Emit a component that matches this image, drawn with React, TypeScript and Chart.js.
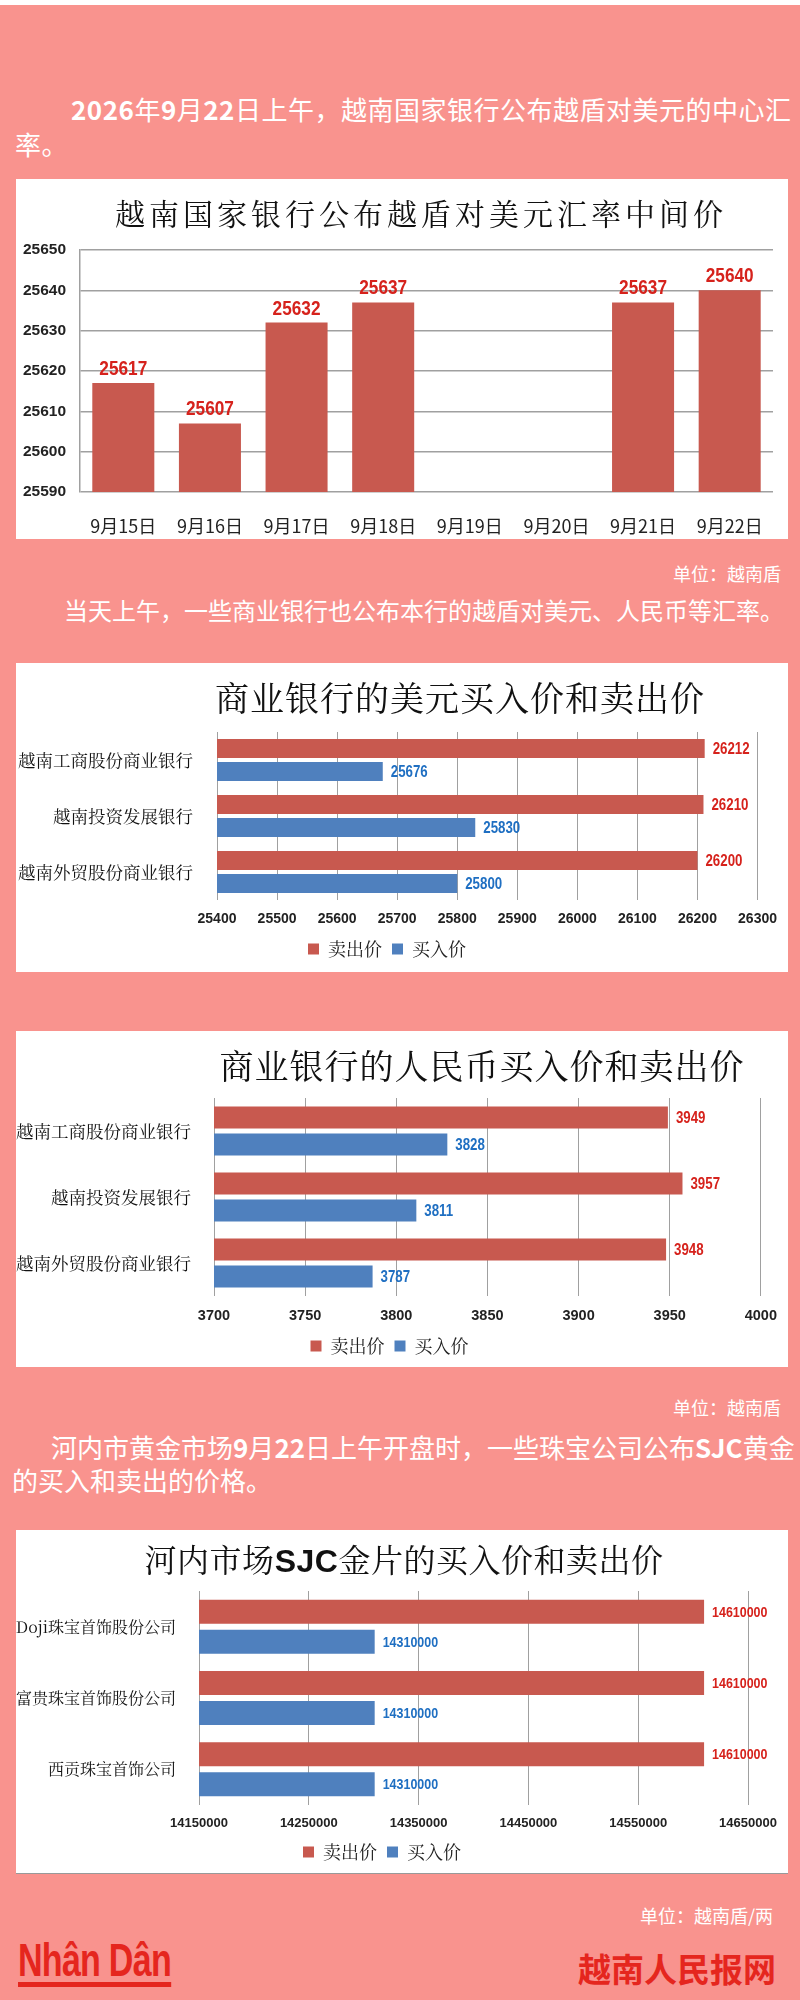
import React, { useEffect, useRef } from 'react';
import { Chart, registerables } from 'chart.js';

Chart.register(...registerables);

// ---------- colours & fonts ----------
const PINK = '#F9938E';
const RED_BAR = '#C8594F';
const BLUE_BAR = '#4F80BE';
const RED_TXT = '#D6221C';
const BLUE_TXT = '#1F6FC2';
const LOGO_RED = '#E5261E';
const GRID = '#A0A0A0';
const NUMF = '"Liberation Sans", Arial, sans-serif';
const CJK = '"Noto Sans CJK SC", "Noto Sans", sans-serif';
const SERIF_CJK = '"Noto Serif CJK SC", "Noto Sans CJK SC", serif';

// ---------- data ----------
// Chart 1: central rate
const rateDates = ['9月15日', '9月16日', '9月17日', '9月18日', '9月19日', '9月20日', '9月21日', '9月22日'];
const rateValues = [25617, 25607, 25632, 25637, null, null, 25637, 25640];
const rateMin = 25590;
const rateMax = 25650;
const rateStep = 10;

// Shared series names
const seriesNames = ['卖出价', '买入价'];

// Chart 2: USD at commercial banks
const banks = ['越南工商股份商业银行', '越南投资发展银行', '越南外贸股份商业银行'];
const usdSell = [26212, 26210, 26200];
const usdBuy = [25676, 25830, 25800];
const usdMin = 25400;
const usdMax = 26300;
const usdStep = 100;

// Chart 3: CNY at commercial banks
const cnySell = [3949, 3957, 3948];
const cnyBuy = [3828, 3811, 3787];
const cnyMin = 3700;
const cnyMax = 4000;
const cnyStep = 50;

// Chart 4: SJC gold
const goldCompanies = ['Doji珠宝首饰股份公司', '富贵珠宝首饰股份公司', '西贡珠宝首饰公司'];
const goldSell = [14610000, 14610000, 14610000];
const goldBuy = [14310000, 14310000, 14310000];
const goldMin = 14150000;
const goldMax = 14650000;
const goldStep = 100000;

// ---------- value label plugin (condensed look via horizontal scaling) ----------
function makeValueLabels(font: string, offset: number, horizontal: boolean, squeeze: number) {
  return {
    id: 'valueLabels',
    afterDatasetsDraw(chart: any) {
      const ctx = chart.ctx;
      chart.data.datasets.forEach((ds: any, di: number) => {
        const meta = chart.getDatasetMeta(di);
        meta.data.forEach((bar: any, i: number) => {
          const v = ds.data[i];
          if (v === null || v === undefined) return;
          ctx.save();
          ctx.font = font;
          ctx.fillStyle = ds.labelColor;
          if (horizontal) {
            ctx.translate(bar.x + offset, bar.y + 1);
            ctx.scale(squeeze, 1);
            ctx.textAlign = 'left';
            ctx.textBaseline = 'middle';
            ctx.fillText(String(v), 0, 0);
          } else {
            ctx.translate(bar.x, bar.y - offset);
            ctx.scale(squeeze, 1);
            ctx.textAlign = 'center';
            ctx.textBaseline = 'alphabetic';
            ctx.fillText(String(v), 0, 0);
          }
          ctx.restore();
        });
      });
    },
  };
}

function ChartCanvas({ make, width, height }: { make: () => any; width: number; height: number }) {
  const ref = useRef<HTMLCanvasElement>(null);
  useEffect(() => {
    const chart = new Chart(ref.current as HTMLCanvasElement, make());
    return () => chart.destroy();
  }, []);
  return (
    <canvas
      ref={ref}
      width={width}
      height={height}
      style={{ position: 'absolute', left: 0, top: 0, width, height, display: 'block' }}
    />
  );
}

function rateConfig() {
  return {
    type: 'bar',
    data: {
      labels: rateDates,
      datasets: [
        {
          data: rateValues,
          backgroundColor: RED_BAR,
          labelColor: RED_TXT,
          categoryPercentage: 0.8,
          barPercentage: 0.895,
        },
      ],
    },
    options: {
      animation: false,
      responsive: false,
      devicePixelRatio: 1,
      layout: { padding: { left: 0, top: 71, right: 15, bottom: 0 } },
      plugins: { legend: { display: false }, tooltip: { enabled: false } },
      scales: {
        x: {
          grid: { display: false },
          border: { display: false },
          ticks: {
            font: { family: CJK, size: 18 },
            color: '#222',
            padding: 15,
            maxRotation: 0,
            autoSkip: false,
          },
          afterFit: (s: any) => {
            s.height = 47;
          },
        },
        y: {
          min: rateMin,
          max: rateMax,
          ticks: {
            stepSize: rateStep,
            font: { family: NUMF, size: 15.5, weight: 'bold' },
            color: '#222',
            padding: 14,
            callback: (v: any) => String(v),
          },
          grid: { color: GRID, lineWidth: 1.5, drawTicks: false },
          border: { display: true, color: GRID, width: 1.5 },
          afterFit: (s: any) => {
            s.width = 64;
          },
        },
      },
    },
    plugins: [makeValueLabels(`bold 21px ${NUMF}`, 8, false, 0.82)],
  };
}

type HP = {
  labels: string[];
  sell: number[];
  buy: number[];
  min: number;
  max: number;
  step: number;
  left: number;
  top: number;
  right: number;
  xAxisH: number;
  padBottom: number;
  tickFont: number;
  tickPad: number;
  catFont: number;
  catPad: number;
  valueFont: number;
  catPct: number;
  barPct: number;
};

function hbarConfig(p: HP) {
  return () => ({
    type: 'bar',
    data: {
      labels: p.labels,
      datasets: [
        {
          label: seriesNames[0],
          data: p.sell,
          backgroundColor: RED_BAR,
          borderWidth: 0,
          labelColor: RED_TXT,
          categoryPercentage: p.catPct,
          barPercentage: p.barPct,
        },
        {
          label: seriesNames[1],
          data: p.buy,
          backgroundColor: BLUE_BAR,
          borderWidth: 0,
          labelColor: BLUE_TXT,
          categoryPercentage: p.catPct,
          barPercentage: p.barPct,
        },
      ],
    },
    options: {
      indexAxis: 'y',
      animation: false,
      responsive: false,
      devicePixelRatio: 1,
      layout: { padding: { left: 0, top: p.top, right: p.right, bottom: p.padBottom } },
      plugins: {
        legend: {
          position: 'bottom',
          labels: {
            boxWidth: 11,
            boxHeight: 11,
            padding: 10,
            color: '#222',
            font: { family: SERIF_CJK, size: 18 },
          },
        },
        tooltip: { enabled: false },
      },
      scales: {
        x: {
          min: p.min,
          max: p.max,
          ticks: {
            stepSize: p.step,
            font: { family: NUMF, size: p.tickFont, weight: 'bold' },
            color: '#222',
            padding: p.tickPad,
            maxRotation: 0,
            autoSkip: false,
            callback: (v: any) => String(v),
          },
          grid: { color: GRID, lineWidth: 1, drawTicks: false },
          border: { display: false },
          afterFit: (s: any) => {
            s.height = p.xAxisH;
          },
        },
        y: {
          grid: { display: false },
          border: { display: false },
          ticks: {
            font: { family: SERIF_CJK, size: p.catFont },
            color: '#111',
            padding: p.catPad,
          },
          afterFit: (s: any) => {
            s.width = p.left;
          },
        },
      },
    },
    plugins: [makeValueLabels(`bold ${p.valueFont}px ${NUMF}`, 8, true, 0.83)],
  });
}

const usdConfig = hbarConfig({
  labels: banks, sell: usdSell, buy: usdBuy, min: usdMin, max: usdMax, step: usdStep,
  left: 201, top: 69, right: 30, xAxisH: 30, padBottom: 4,
  tickFont: 14, tickPad: 11, catFont: 17.5, catPad: 16, valueFont: 16, catPct: 0.82, barPct: 0.83,
});

const cnyConfig = hbarConfig({
  labels: banks, sell: cnySell, buy: cnyBuy, min: cnyMin, max: cnyMax, step: cnyStep,
  left: 198, top: 67, right: 25, xAxisH: 31, padBottom: 2,
  tickFont: 14.5, tickPad: 11, catFont: 17.5, catPad: 15, valueFont: 16, catPct: 0.82, barPct: 0.815,
});

const goldConfig = hbarConfig({
  labels: goldCompanies, sell: goldSell, buy: goldBuy, min: goldMin, max: goldMax, step: goldStep,
  left: 183, top: 61, right: 40, xAxisH: 28, padBottom: 2,
  tickFont: 13, tickPad: 11, catFont: 16, catPad: 15, valueFont: 15, catPct: 0.84, barPct: 0.8,
});

const abs = (style: React.CSSProperties): React.CSSProperties => ({ position: 'absolute', ...style });

function Box({ top, height, children, style }: { top: number; height: number; children: React.ReactNode; style?: React.CSSProperties }) {
  return (
    <div style={abs({ left: 16, top, width: 772, height, background: '#fff', ...style })}>{children}</div>
  );
}

function Title({ cx, cy, size, spacing, children }: { cx: number; cy: number; size: number; spacing: number; children: React.ReactNode }) {
  return (
    <div
      style={abs({
        left: cx,
        top: cy - size * 0.7,
        transform: 'translateX(-50%)',
        whiteSpace: 'nowrap',
        fontFamily: SERIF_CJK,
        fontSize: size,
        lineHeight: `${size * 1.4}px`,
        letterSpacing: spacing,
        color: '#111',
        zIndex: 2,
      })}
    >
      {children}
    </div>
  );
}

const paraStyle: React.CSSProperties = {
  color: '#fff',
  fontFamily: CJK,
  whiteSpace: 'nowrap',
};

export default function App() {
  return (
    <div style={{ position: 'relative', width: 800, height: 2000, background: PINK, overflow: 'hidden' }}>
      <style>{`body{margin:0;}`}</style>
      <div style={abs({ left: 0, top: 0, width: 800, height: 5, background: '#fff' })} />

      {/* Paragraph 1 */}
      <div style={abs({ ...paraStyle, left: 15, top: 91, fontSize: 26, lineHeight: '35px', letterSpacing: 0.5 })}>
        <div style={{ paddingLeft: 56 }}>
          <b>2026</b>年<b>9</b>月<b>22</b>日上午，越南国家银行公布越盾对美元的中心汇
        </div>
        <div>率。</div>
      </div>

      {/* Chart 1 */}
      <Box top={179} height={360}>
        <ChartCanvas make={rateConfig} width={772} height={360} />
        <Title cx={405} cy={33} size={30} spacing={4}>越南国家银行公布越盾对美元汇率中间价</Title>
      </Box>

      <div style={abs({ ...paraStyle, right: 19, top: 561, fontSize: 18, lineHeight: '24px' })}>单位：越南盾</div>

      {/* Paragraph 2 */}
      <div style={abs({ ...paraStyle, left: 64, top: 594, fontSize: 24, lineHeight: '32px' })}>
        当天上午，一些商业银行也公布本行的越盾对美元、人民币等汇率。
      </div>

      {/* Chart 2 */}
      <Box top={663} height={309}>
        <ChartCanvas make={usdConfig} width={772} height={309} />
        <Title cx={444} cy={34} size={34} spacing={1}>商业银行的美元买入价和卖出价</Title>
      </Box>

      {/* Chart 3 */}
      <Box top={1031} height={336}>
        <ChartCanvas make={cnyConfig} width={772} height={336} />
        <Title cx={466} cy={34} size={34} spacing={1}>商业银行的人民币买入价和卖出价</Title>
      </Box>

      <div style={abs({ ...paraStyle, right: 19, top: 1395, fontSize: 18, lineHeight: '24px' })}>单位：越南盾</div>

      {/* Paragraph 3 */}
      <div style={abs({ ...paraStyle, left: 12, top: 1430, fontSize: 26, lineHeight: '33px' })}>
        <div style={{ paddingLeft: 39 }}>
          河内市黄金市场<b>9</b>月<b>22</b>日上午开盘时，一些珠宝公司公布<b>SJC</b>黄金
        </div>
        <div>的买入和卖出的价格。</div>
      </div>

      {/* Chart 4 */}
      <Box top={1530} height={343} style={{ borderBottom: '1px solid #999' }}>
        <ChartCanvas make={goldConfig} width={772} height={343} />
        <Title cx={388} cy={28} size={32} spacing={0.5}>
          河内市场<b style={{ fontFamily: NUMF }}>SJC</b>金片的买入价和卖出价
        </Title>
      </Box>

      <div style={abs({ ...paraStyle, right: 27, top: 1903, fontSize: 18, lineHeight: '24px' })}>单位：越南盾/两</div>

      {/* Footer */}
      <div
        style={abs({
          left: 18,
          top: 1938,
          fontFamily: NUMF,
          fontWeight: 'bold',
          fontSize: 46,
          lineHeight: '44px',
          color: LOGO_RED,
          borderBottom: `5px solid ${LOGO_RED}`,
          letterSpacing: -1,
          whiteSpace: 'nowrap',
          transform: 'scaleX(0.74)',
          transformOrigin: 'left top',
        })}
      >
        Nhân Dân
      </div>
      <div
        style={abs({
          right: 24,
          top: 1948,
          fontFamily: CJK,
          fontWeight: 'bold',
          fontSize: 33,
          lineHeight: '40px',
          color: LOGO_RED,
          whiteSpace: 'nowrap',
        })}
      >
        越南人民报网
      </div>
    </div>
  );
}
